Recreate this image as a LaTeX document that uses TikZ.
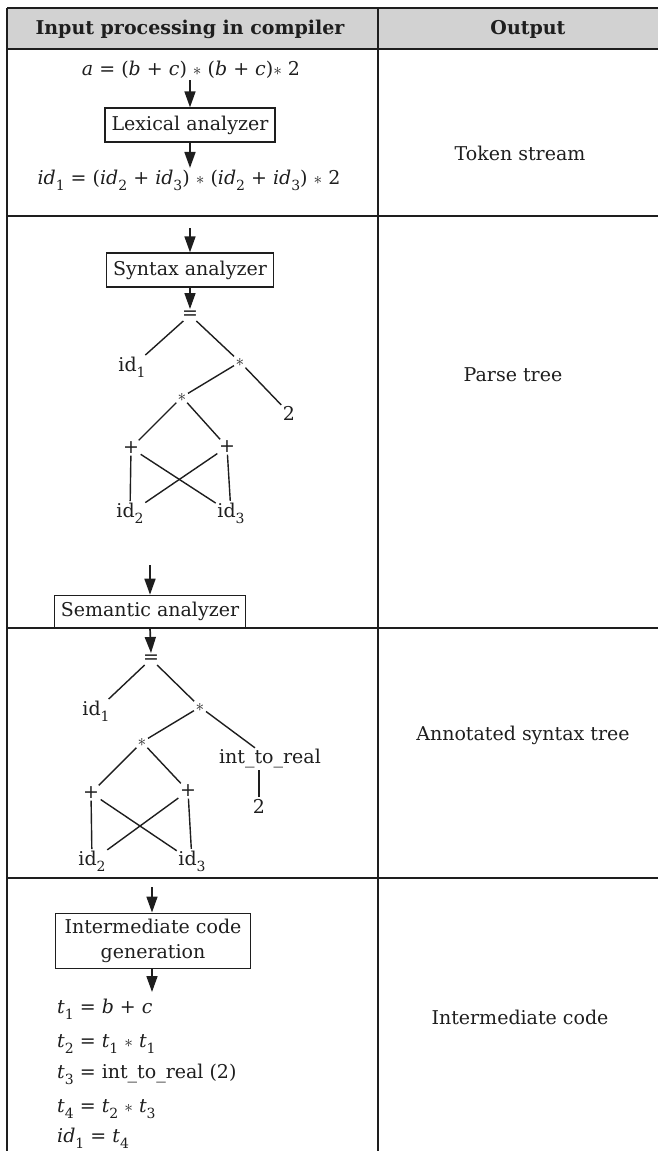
\documentclass[tikz,border=0pt]{standalone}
\usepackage{fontspec}
\setmainfont{DejaVu Serif}
\usetikzlibrary{arrows.meta, positioning, calc}
\definecolor{headgray}{HTML}{D2D2D2}
\definecolor{inkdark}{HTML}{1E1E1E}
\newcommand{\iv}[1]{\textit{#1}}
\newcommand{\lowidx}[1]{\raisebox{-0.32em}{\fontsize{14}{14}\selectfont #1}}

\tikzset{
  stagebox/.style={draw=inkdark, line width=1.3pt, inner xsep=6.5pt, minimum height=34pt, font=\fontsize{19}{25}\selectfont},
  flow/.style={draw=inkdark, line width=1.7pt, -{Triangle[length=16pt,width=11pt]}},
  tnode/.style={inner sep=1.5pt, font=\fontsize{19}{23}\selectfont},
  tedge/.style={draw=inkdark, line width=1.4pt},
  codeline/.style={anchor=base west, inner sep=0pt, font=\fontsize{19}{23}\selectfont},
  outtext/.style={font=\fontsize{19}{23}\selectfont},
  gridline/.style={draw=inkdark, line width=1.8pt}
}

\begin{document}
\begin{tikzpicture}[x=1pt, y=-1pt, inkdark]
  \useasboundingbox (0,0) rectangle (658,1151);

  % Header background
  \fill[headgray] (7,8) rectangle (658,49);
  \node[font=\fontsize{19}{23}\selectfont\bfseries] (hin) at (190,29) {Input processing in compiler};
  \node[font=\fontsize{19}{23}\selectfont\bfseries] (hout) at (528,29) {Output};

  % Table rules
  \draw[gridline] (7,8) -- (658,8);
  \draw[gridline] (7,49) -- (658,49);
  \foreach \y in {216,878} {
    \draw[gridline] (7,\y) -- (658,\y);
  }
  \draw[gridline, line width=2.4pt] (7,628) -- (658,628);
  \draw[gridline] (7,8) -- (7,1151);
  \draw[gridline] (378,8) -- (378,1151);

  % Lexical analysis
  \node[tnode] (src) at (191,70) {\iv{a} = (\iv{b} + \iv{c}) $\ast$ (\iv{b} + \iv{c})$\ast$ 2};
  \node[stagebox] (lex) at (190,125) {Lexical analyzer};
  \node[tnode] (tok) at (189,180) {\iv{id}\lowidx{1} = (\iv{id}\lowidx{2} + \iv{id}\lowidx{3}) $\ast$ (\iv{id}\lowidx{2} + \iv{id}\lowidx{3}) $\ast$ 2};
  \draw[flow] (src.south -| lex.north) -- (lex.north);
  \draw[flow] (lex.south) -- (lex.south |- tok.north);
  \node[outtext] (o1) at (520,153) {Token stream};

  % Syntax analysis and parse tree
  \coordinate (in2) at (190,228);
  \node[stagebox] (syn) at (190,270) {Syntax analyzer};
  \draw[flow] (in2) -- (syn.north);
  \node[tnode] (pe) at (190,315) {=};
  \node[tnode] (pid1) at (132,367) {id\lowidx{1}};
  \node[tnode] (pm1) at (240,362) {$\ast$};
  \node[tnode] (pm2) at (182,397) {$\ast$};
  \node[tnode] (p2) at (289,413) {2};
  \node[tnode] (pp1) at (131,448) {+};
  \node[tnode] (pp2) at (227,447) {+};
  \node[tnode] (pid2) at (130,513) {id\lowidx{2}};
  \node[tnode] (pid3) at (231,513) {id\lowidx{3}};
  \draw[flow] (syn.south) -- (pe.north);
  \foreach \a/\b in {pe/pid1, pe/pm1, pm1/pm2, pm1/p2, pm2/pp1, pm2/pp2, pp1/pid2, pp1/pid3, pp2/pid2, pp2/pid3} {
    \draw[tedge] (\a) -- (\b);
  }
  \coordinate (in3) at (150,565);
  \node[stagebox, anchor=south, minimum height=32pt] (sem) at (150,628) {Semantic analyzer};
  \draw[flow] (in3) -- (sem.north);
  \node[outtext] (o2) at (513,375) {Parse tree};

  % Annotated syntax tree
  \node[tnode] (ae) at (151,659) {=};
  \node[tnode] (aid1) at (96,711) {id\lowidx{1}};
  \node[tnode] (am1) at (200,707) {$\ast$};
  \node[tnode] (am2) at (142,742) {$\ast$};
  \node[tnode] (aitr) at (270,759) {int\_to\_real};
  \node[tnode] (a2) at (259,806) {2};
  \node[tnode] (ap1) at (91,793) {+};
  \node[tnode] (ap2) at (188,791) {+};
  \node[tnode] (aid2) at (92,861) {id\lowidx{2}};
  \node[tnode] (aid3) at (192,861) {id\lowidx{3}};
  \draw[flow] (sem.south) -- (ae.north);
  \foreach \a/\b in {ae/aid1, ae/am1, am1/am2, am1/aitr, am2/ap1, am2/ap2, ap1/aid2, ap1/aid3, ap2/aid2, ap2/aid3} {
    \draw[tedge] (\a) -- (\b);
  }
  \draw[tedge] (aitr.south -| a2.north) -- (a2.north);
  \node[outtext] (o3) at (523,735) {Annotated syntax tree};

  % Intermediate code generation
  \coordinate (in4) at (152,887);
  \node[stagebox, align=center, inner xsep=9pt, inner ysep=6pt] (icg) at (153,941) {Intermediate code\\generation};
  \draw[flow] (in4) -- (in4 |- icg.north);
  \coordinate (out4) at (152,992);
  \draw[flow] (icg.south -| out4) -- (out4);
  \foreach \y/\txt [count=\i] in {1013/{\iv{t}\lowidx{1} = \iv{b} + \iv{c}}, 1047/{\iv{t}\lowidx{2} = \iv{t}\lowidx{1} $\ast$ \iv{t}\lowidx{1}}, 1078/{\iv{t}\lowidx{3} = int\_to\_real (2)}, 1112/{\iv{t}\lowidx{4} = \iv{t}\lowidx{2} $\ast$ \iv{t}\lowidx{3}}, 1142/{\iv{id}\lowidx{1} = \iv{t}\lowidx{4}}} {
    \node[codeline] (t\i) at (57,\y) {\txt};
  }
  \node[outtext] (o4) at (520,1017) {Intermediate code};
\end{tikzpicture}
\end{document}
